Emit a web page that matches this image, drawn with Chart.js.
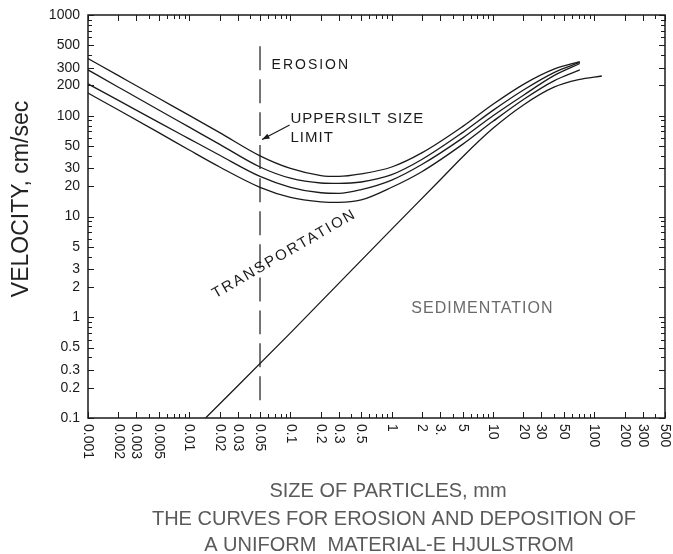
<!DOCTYPE html>
<html lang="en">
<head>
<meta charset="utf-8">
<title>Hjulstrom</title>
<script src="https://cdn.jsdelivr.net/npm/chart.js@4.4.1/dist/chart.umd.min.js"></script>
<style>
  html, body { margin: 0; padding: 0; background: #fff; }
  #grafico { display: block; }
</style>
</head>
<body>
<canvas id="grafico" width="673" height="554"></canvas>
<script>
// diametri dei granuli (mm) per le curve di erosione
const diametri = [0.001, 0.002, 0.005, 0.01, 0.02, 0.05, 0.1, 0.2, 0.3, 0.5, 1, 2, 5, 10, 20, 40, 72];
const erosione1 = [370, 250, 149, 101, 68, 40, 30, 25.5, 25, 26.5, 31, 43, 78, 130, 205, 290, 345];
const erosione2 = [285, 192, 114, 77, 52, 31, 24, 21.5, 21.3, 22, 26, 37, 68, 113, 180, 268, 338];
const erosione3 = [207, 142, 86, 59, 40.5, 25, 19.5, 17.2, 17, 18.5, 23, 33, 60, 100, 160, 250, 330];
const erosione4 = [168, 114, 68, 45.7, 31, 19.5, 15.5, 14, 13.8, 14.6, 19.5, 28, 52, 88, 145, 222, 285];

// curva di sedimentazione
const diametriSed = [0.0145, 0.1, 1, 3, 5, 10, 20, 40, 70, 119];
const sedimentazione = [0.1, 0.7, 7.5, 23, 39, 75, 128, 192, 228, 248];

// limite superiore del silt (linea tratteggiata)
const limiteSilt = 0.05;
const limiteVel = [0.15, 590];

// etichette degli assi
const tickX = [0.001, 0.002, 0.003, 0.005, 0.01, 0.02, 0.03, 0.05, 0.1, 0.2, 0.3, 0.5, 1, 2, 3, 5, 10, 20, 30, 50, 100, 200, 300, 500];
const etichetteX = ["0.001", "0.002", "0.003", "0.005", "0.01", "0.02", "0.03", "0.05", "0.1", "0.2", "0.3", "0.5", "1", "2", "3.", "5", "10", "20", "30", "50", "100", "200", "300", "500"];
const tickY = [0.1, 0.2, 0.3, 0.5, 1, 2, 3, 5, 10, 20, 30, 50, 100, 200, 300, 500, 1000];

const FONT = "'Liberation Sans', Arial, sans-serif";

const punti = (xs, ys) => xs.map((d, i) => ({ x: d, y: ys[i] }));

// üñäÔ∏è cornice, tacche, etichette e scritte
const cornice = {
  id: "cornice",
  afterDraw(chart) {
    const { ctx, chartArea: a } = chart;
    const sx = chart.scales.x;
    const sy = chart.scales.y;
    ctx.save();
    ctx.strokeStyle = "#1a1a1a";
    ctx.lineWidth = 1.5;
    ctx.strokeRect(a.left, a.top, a.right - a.left, a.bottom - a.top);

    // tacche interne
    ctx.lineWidth = 1;
    for (let e = -3; e <= 2; e++) {
      for (let m = 1; m <= 9; m++) {
        const v = m * Math.pow(10, e);
        if (v > 500.0001) continue;
        const px = Math.round(sx.getPixelForValue(v)) + 0.5;
        const len = [1, 2, 3, 5].includes(m) ? 6 : 4;
        ctx.beginPath();
        ctx.moveTo(px, a.bottom); ctx.lineTo(px, a.bottom - len);
        ctx.moveTo(px, a.top); ctx.lineTo(px, a.top + len);
        ctx.stroke();
      }
    }
    for (let e = -1; e <= 3; e++) {
      for (let m = 1; m <= 9; m++) {
        const v = m * Math.pow(10, e);
        if (v > 1000.0001) continue;
        const py = Math.round(sy.getPixelForValue(v)) + 0.5;
        const len = [1, 2, 3, 5].includes(m) ? 6 : 4;
        ctx.beginPath();
        ctx.moveTo(a.left, py); ctx.lineTo(a.left + len, py);
        ctx.moveTo(a.right, py); ctx.lineTo(a.right - len, py);
        ctx.stroke();
      }
    }

    // etichette asse y
    ctx.fillStyle = "#1a1a1a";
    ctx.font = "14px " + FONT;
    ctx.textAlign = "right";
    ctx.textBaseline = "middle";
    tickY.forEach(v => ctx.fillText(String(v), a.left - 8, sy.getPixelForValue(v)));

    // etichette asse x, ruotate
    ctx.textAlign = "left";
    tickX.forEach((v, i) => {
      ctx.save();
      ctx.translate(sx.getPixelForValue(v), a.bottom + 6);
      ctx.rotate(Math.PI / 2);
      ctx.fillText(etichetteX[i], 0, 0);
      ctx.restore();
    });

    // titolo asse y
    ctx.save();
    ctx.translate(22, 199);
    ctx.rotate(-Math.PI / 2);
    ctx.textAlign = "center";
    ctx.font = "23px " + FONT;
    ctx.fillStyle = "#222";
    ctx.fillText("VELOCITY, cm/sec", 0, 0);
    ctx.restore();

    // scritte dentro il grafico
    ctx.fillStyle = "#1a1a1a";
    ctx.textAlign = "left";
    ctx.font = "14px " + FONT;
    ctx.letterSpacing = "2px";
    ctx.fillText("EROSION", sx.getPixelForValue(0.065), sy.getPixelForValue(319));
    ctx.font = "15px " + FONT;
    ctx.letterSpacing = "1px";
    ctx.fillText("UPPERSILT SIZE", sx.getPixelForValue(0.1), sy.getPixelForValue(93));
    ctx.fillText("LIMIT", sx.getPixelForValue(0.1), sy.getPixelForValue(60));

    ctx.save();
    ctx.translate(sx.getPixelForValue(0.087), sy.getPixelForValue(4.25));
    ctx.rotate(-30 * Math.PI / 180);
    ctx.textAlign = "center";
    ctx.letterSpacing = "2px";
    ctx.fillText("TRANSPORTATION", 0, 0);
    ctx.restore();

    ctx.fillStyle = "#6a6a6a";
    ctx.font = "16px " + FONT;
    ctx.letterSpacing = "1px";
    ctx.fillText("SEDIMENTATION", sx.getPixelForValue(1.56), sy.getPixelForValue(1.21));
    ctx.letterSpacing = "0px";

    // freccia verso il limite del silt
    const x0 = sx.getPixelForValue(0.098), y0 = sy.getPixelForValue(81);
    const x1 = sx.getPixelForValue(limiteSilt) + 2, y1 = sy.getPixelForValue(58);
    const ang = Math.atan2(y1 - y0, x1 - x0);
    ctx.strokeStyle = "#1a1a1a";
    ctx.lineWidth = 1.2;
    ctx.beginPath(); ctx.moveTo(x0, y0); ctx.lineTo(x1, y1); ctx.stroke();
    ctx.beginPath();
    ctx.moveTo(x1, y1);
    ctx.lineTo(x1 - 8 * Math.cos(ang - 0.35), y1 - 8 * Math.sin(ang - 0.35));
    ctx.lineTo(x1 - 8 * Math.cos(ang + 0.35), y1 - 8 * Math.sin(ang + 0.35));
    ctx.closePath();
    ctx.fillStyle = "#1a1a1a";
    ctx.fill();

    // didascalia
    ctx.fillStyle = "#5a5a5a";
    ctx.textAlign = "center";
    ctx.font = "20px " + FONT;
    ctx.fillText("SIZE OF PARTICLES, mm", 388, 491);
    ctx.fillText("THE CURVES FOR EROSION AND DEPOSITION OF", 394, 519);
    ctx.fillText("A UNIFORM  MATERIAL-E HJULSTROM", 389, 545);
    ctx.restore();
  }
};

const stileCurva = {
  showLine: true,
  borderColor: "#1a1a1a",
  borderWidth: 1.3,
  pointRadius: 0,
  fill: false,
  cubicInterpolationMode: "monotone"
};

new Chart(document.getElementById("grafico"), {
  type: "scatter",
  data: {
    datasets: [
      { ...stileCurva, label: "Erosione 1", data: punti(diametri, erosione1) },
      { ...stileCurva, label: "Erosione 2", data: punti(diametri, erosione2) },
      { ...stileCurva, label: "Erosione 3", data: punti(diametri, erosione3) },
      { ...stileCurva, label: "Erosione 4", data: punti(diametri, erosione4) },
      { ...stileCurva, label: "Sedimentazione", data: punti(diametriSed, sedimentazione) },
      {
        ...stileCurva, label: "Limite silt",
        data: limiteVel.map(v => ({ x: limiteSilt, y: v })),
        borderDash: [24, 9], borderWidth: 1.2
      }
    ]
  },
  options: {
    responsive: false,
    animation: false,
    layout: { padding: { left: 88, top: 15, right: 8, bottom: 136 } },
    plugins: { legend: { display: false }, tooltip: { enabled: false } },
    scales: {
      x: { type: "logarithmic", min: 0.001, max: 500, display: false },
      y: { type: "logarithmic", min: 0.1, max: 1000, display: false }
    }
  },
  plugins: [cornice]
});
</script>
</body>
</html>
